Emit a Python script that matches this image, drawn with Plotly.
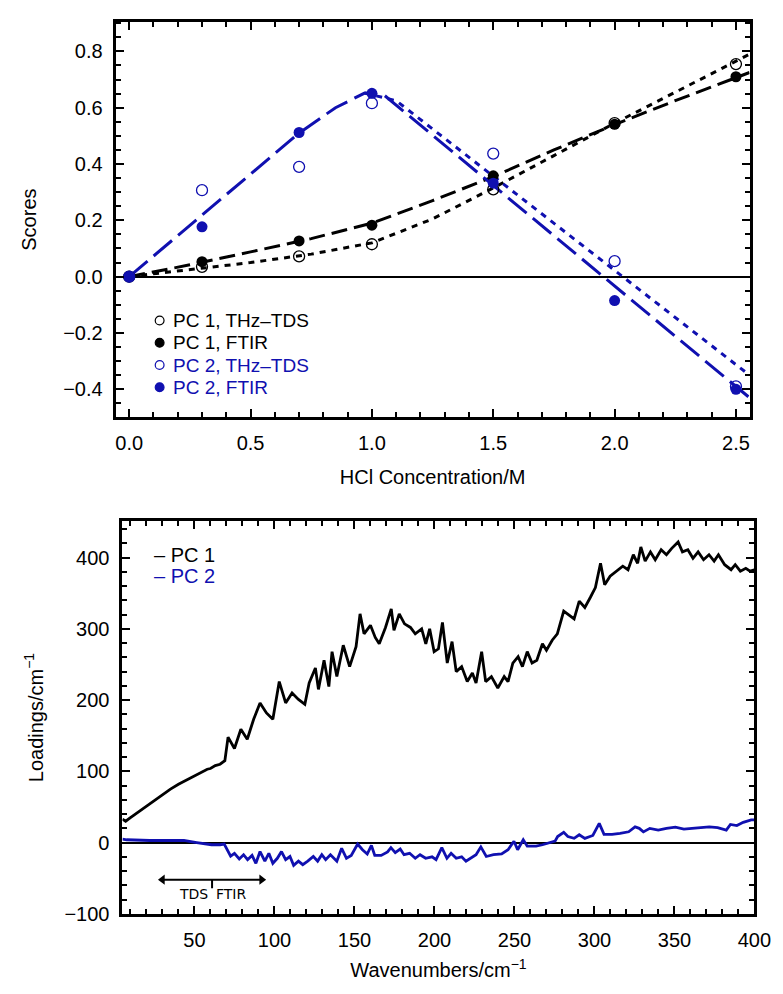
import plotly.graph_objects as go

BLUE = "#1010b0"
W, H = 783, 994

# ---------------- top panel data ----------------
conc = [0.0, 0.3, 0.7, 1.0, 1.5, 2.0, 2.5]
pc1_thz = [0.0, 0.035, 0.072, 0.115, 0.31, 0.545, 0.755]
pc1_ftir = [0.0, 0.053, 0.127, 0.183, 0.358, 0.541, 0.71]
pc2_thz = [0.0, 0.307, 0.39, 0.616, 0.437, 0.055, -0.39]
pc2_ftir = [0.0, 0.177, 0.512, 0.651, 0.332, -0.085, -0.40]

fit1_x = [0.0, 0.25, 0.5, 0.75, 1.0, 1.25, 1.5, 1.75, 2.0, 2.25, 2.556]
fit1_ftir_y = [0.0, 0.042, 0.088, 0.135, 0.19, 0.27, 0.355, 0.45, 0.54, 0.625, 0.725]
fit1_thz_y = [0.0, 0.025, 0.05, 0.08, 0.12, 0.205, 0.315, 0.43, 0.545, 0.655, 0.79]
fit2_ftir_x = [0.0, 0.3, 0.7, 0.85, 0.97, 1.05, 1.5, 2.0, 2.556]
fit2_ftir_y = [0.0, 0.22, 0.51, 0.6, 0.652, 0.645, 0.324, -0.033, -0.43]
fit2_thz_x = [0.97, 1.1, 1.5, 2.0, 2.556]
fit2_thz_y = [0.652, 0.625, 0.357, 0.022, -0.35]

# ---------------- bottom panel data ----------------
wn1 = [5, 7, 10, 15, 20, 25, 30, 35, 40, 45, 50, 55, 58, 60, 63, 66, 69, 71,
       75, 79, 83, 87, 91, 95, 99, 103, 107, 111, 115, 119, 121.7, 125.6, 127.5,
       131, 134, 136, 139, 143, 147, 151, 153.5, 156, 160, 163, 165.5, 169.4,
       173, 174.7, 178, 181.3, 185, 188, 192, 194.6, 197, 199.8, 202.5, 205, 208,
       211, 213.6, 217, 220.5, 223.7, 226, 229.5, 232, 235.6, 239.6, 243.6, 246,
       249, 252.3, 255, 258, 261, 264, 267.5, 270, 273.6, 276.8, 280.8, 284.7,
       287.3, 290.5, 294, 297.4, 300.6, 303.8, 306.4, 309.8, 313.7, 317.7, 321,
       324.3, 327, 329, 331.7, 335, 338, 341.7, 345, 348.3, 352.3, 355, 358.4,
       361.6, 364.8, 368.2, 371.6, 374.8, 377.5, 381.4, 385.4, 388, 391.2, 394.6,
       397.3, 400]
pc1_load = [33, 30, 35, 43, 52, 60, 67, 75, 82, 88, 93, 99, 103, 104, 108, 110, 115, 148,
            132, 159, 145, 173, 196, 182, 173, 226, 196, 210, 201, 194, 224, 245, 215,
            256, 219, 268, 233, 277, 247, 275, 321, 293, 305, 288, 279, 302,
            328, 298, 321, 307, 302, 293, 300, 279, 300, 268, 272, 309, 252,
            282, 240, 247, 226, 238, 224, 268, 226, 233, 217, 233, 226,
            252, 261, 247, 268, 252, 256, 279, 270, 284, 293, 325, 318,
            314, 339, 330, 344, 358, 392, 362, 374, 381, 388, 383,
            404, 392, 415, 395, 408, 397, 411, 404, 413, 422, 408, 411,
            399, 408, 397, 404, 395, 404, 390, 383, 390, 381, 385,
            381, 383]

wn2 = [5, 7.6, 22, 43.4, 51.4, 60.7, 66, 68.6, 72.6, 75, 78, 80.7, 83.2, 86, 88.4,
       91, 94, 96.5, 99, 101.8, 104.4, 107, 109.7, 112, 115, 117.7, 120.8, 124.3,
       127, 129.6, 132, 135, 139, 142, 145, 148, 152, 155, 158, 160.6, 162.7,
       166.7, 170.7, 172.8, 175.5, 178.6, 181, 184.5, 188, 191, 194.5, 198.5, 201,
       204.6, 207.8, 210.4, 213.6, 217, 219.7, 223.7, 226, 229, 232.4, 236.9, 242,
       246, 249.7, 252, 255.5, 258, 263.5, 267.5, 271.4, 275.4, 277, 280.8, 283.4,
       287.3, 290.5, 294, 299, 303, 306, 311, 316, 321.4, 325.4, 328, 330.6, 334.6,
       339.9, 345, 350.6, 355.9, 361, 366.5, 371.8, 377, 382.4, 385, 389, 393, 398, 400]
pc2_load = [5, 4, 3, 3, 0, -3, -3, -2, -19, -15, -23, -17, -24, -18, -29,
            -12.5, -26, -15, -29, -22, -12.5, -24, -19.5, -32, -26, -31, -26, -19.5,
            -26, -17, -24, -17, -26, -8, -22, -18, -2, -10, -16, -4, -18,
            -18, -13, -7, -14, -9, -17, -15, -22, -17, -22, -20, -24,
            -7, -22, -15, -22, -20, -26, -19.5, -17, -6, -19.5, -17, -16,
            -10, 2, -10, 4, -5, -5, -3, -1, 2, 8.6, 14.4, 8.6,
            6, 11, 6, 10, 27, 11.6, 11.6, 13, 15.2, 22, 20, 15, 20,
            17.5, 20, 21.6, 19, 20, 21, 22, 21, 17.5, 25.5, 24, 28.5, 32, 32]

# TDS / FTIR range marker (wavenumbers)
tds_start, split_wn, ftir_end, marker_level = 30, 61, 92, -52

fig = go.Figure()

# fits (top)
fig.add_trace(go.Scatter(x=fit1_x, y=fit1_thz_y, mode="lines", showlegend=False,
                         line=dict(color="black", width=3, dash="6px,6px")))
fig.add_trace(go.Scatter(x=fit1_x, y=fit1_ftir_y, mode="lines", showlegend=False,
                         line=dict(color="black", width=3, dash="16px,7px")))
fig.add_trace(go.Scatter(x=fit2_thz_x, y=fit2_thz_y, mode="lines", showlegend=False,
                         line=dict(color=BLUE, width=3, dash="6px,6px")))
fig.add_trace(go.Scatter(x=fit2_ftir_x, y=fit2_ftir_y, mode="lines", showlegend=False,
                         line=dict(color=BLUE, width=3, dash="24px,8px")))

# points (top)
fig.add_trace(go.Scatter(x=conc, y=pc1_thz, mode="markers", showlegend=False,
                         marker=dict(symbol="circle-open", size=11, color="black",
                                     line=dict(width=1.3, color="black"))))
fig.add_trace(go.Scatter(x=conc, y=pc1_ftir, mode="markers", showlegend=False,
                         marker=dict(symbol="circle", size=11, color="black")))
fig.add_trace(go.Scatter(x=conc, y=pc2_thz, mode="markers", showlegend=False,
                         marker=dict(symbol="circle-open", size=11, color=BLUE,
                                     line=dict(width=1.3, color=BLUE))))
fig.add_trace(go.Scatter(x=conc, y=pc2_ftir, mode="markers", showlegend=False,
                         marker=dict(symbol="circle", size=11, color=BLUE)))

# bottom lines
fig.add_trace(go.Scatter(x=wn1, y=pc1_load, mode="lines", showlegend=False,
                         xaxis="x2", yaxis="y2",
                         line=dict(color="black", width=2.8)))
fig.add_trace(go.Scatter(x=wn2, y=pc2_load, mode="lines", showlegend=False,
                         xaxis="x2", yaxis="y2",
                         line=dict(color=BLUE, width=2.8)))

# double-headed range arrow with arrowheads as markers
fig.add_trace(go.Scatter(x=[tds_start, ftir_end], y=[marker_level, marker_level],
                         mode="lines+markers", showlegend=False, xaxis="x2", yaxis="y2",
                         line=dict(color="black", width=2),
                         marker=dict(symbol=["triangle-left", "triangle-right"],
                                     size=9, color="black")))

FONT = "Liberation Sans, Arial, sans-serif"
tick_font = dict(family=FONT, size=20, color="black")
title_font = dict(family=FONT, size=20, color="black")


def axis(title, standoff, **kw):
    d = dict(showline=True, linewidth=3, linecolor="black", mirror="allticks",
             ticks="inside", ticklen=8, tickwidth=2, tickcolor="black",
             showgrid=False, zeroline=False, tickfont=tick_font,
             ticklabelstandoff=6,
             title=dict(text=title, font=title_font, standoff=standoff))
    d.update(kw)
    return d


def minor(dt):
    return dict(dtick=dt, ticks="inside", ticklen=5, tickwidth=2,
                tickcolor="black", showgrid=False)


fig.update_layout(
    width=W, height=H, margin=dict(l=0, r=0, t=0, b=0),
    plot_bgcolor="white", paper_bgcolor="white", showlegend=False,
    xaxis=axis("HCl Concentration/M", 17,
               domain=[110 / W, 758 / W], range=[-0.056, 2.556], tick0=0,
               dtick=0.5, tickformat=".1f", minor=minor(0.1), anchor="y"),
    yaxis=axis("Scores", 22,
               domain=[1 - 414 / H, 1 - 14 / H], range=[-0.50, 0.905], tick0=0,
               dtick=0.2, tickformat=".1f", minor=minor(0.05), anchor="x",
               zeroline=True, zerolinewidth=1.5, zerolinecolor="black"),
    xaxis2=axis("Wavenumbers/cm<sup>−1</sup>", 14,
                domain=[117 / W, 763 / W], range=[5, 400], tick0=0, dtick=50,
                minor=minor(10), anchor="y2"),
    yaxis2=axis("Loadings/cm<sup>−1</sup>", 16,
                domain=[1 - 916 / H, 1 - 519 / H], range=[-100, 451], tick0=0,
                dtick=100, minor=minor(20), anchor="x2",
                zeroline=True, zerolinewidth=1.5, zerolinecolor="black"),
)

ann = []


def px_ann(text, x, y, size=20, color="black", xanchor="center", angle=0,
           family=FONT):
    ann.append(dict(text=text, x=x / W, y=1 - y / H, xref="paper", yref="paper",
                    showarrow=False, xanchor=xanchor, yanchor="middle",
                    textangle=angle, font=dict(family=family, size=size, color=color)))


# top legend
legend_items = [("PC 1, THz–TDS", "black", False),
                ("PC 1, FTIR", "black", True),
                ("PC 2, THz–TDS", BLUE, False),
                ("PC 2, FTIR", BLUE, True)]
shapes = []
for i, (txt, col, filled) in enumerate(legend_items):
    yc = 316 + i * 22.5
    px_ann(txt, 167, yc, size=19, color=col, xanchor="left")
    r = 4.5
    shapes.append(dict(type="circle", xref="paper", yref="paper",
                       x0=(155 - r) / W, x1=(155 + r) / W,
                       y0=1 - (yc + r) / H, y1=1 - (yc - r) / H,
                       line=dict(color=col, width=1.2),
                       fillcolor=col if filled else "rgba(0,0,0,0)"))

# bottom legend
px_ann("– PC 1", 147, 553, size=20, color="black", xanchor="left")
px_ann("– PC 2", 147, 574, size=20, color=BLUE, xanchor="left")

# TDS / FTIR separator and labels
shapes.append(dict(type="line", xref="x2", yref="y2", x0=split_wn, x1=split_wn,
                   y0=marker_level, y1=marker_level - 12,
                   line=dict(color="black", width=2)))
ann.append(dict(text="TDS", x=split_wn - 1.5, y=-72, xref="x2", yref="y2",
                showarrow=False, xanchor="right", yanchor="middle",
                font=dict(family="DejaVu Sans", size=14, color="black")))
ann.append(dict(text="FTIR", x=split_wn + 1.5, y=-72, xref="x2", yref="y2",
                showarrow=False, xanchor="left", yanchor="middle",
                font=dict(family="DejaVu Sans", size=14, color="black")))

fig.update_layout(annotations=ann, shapes=shapes)
fig.write_html("out.html")
